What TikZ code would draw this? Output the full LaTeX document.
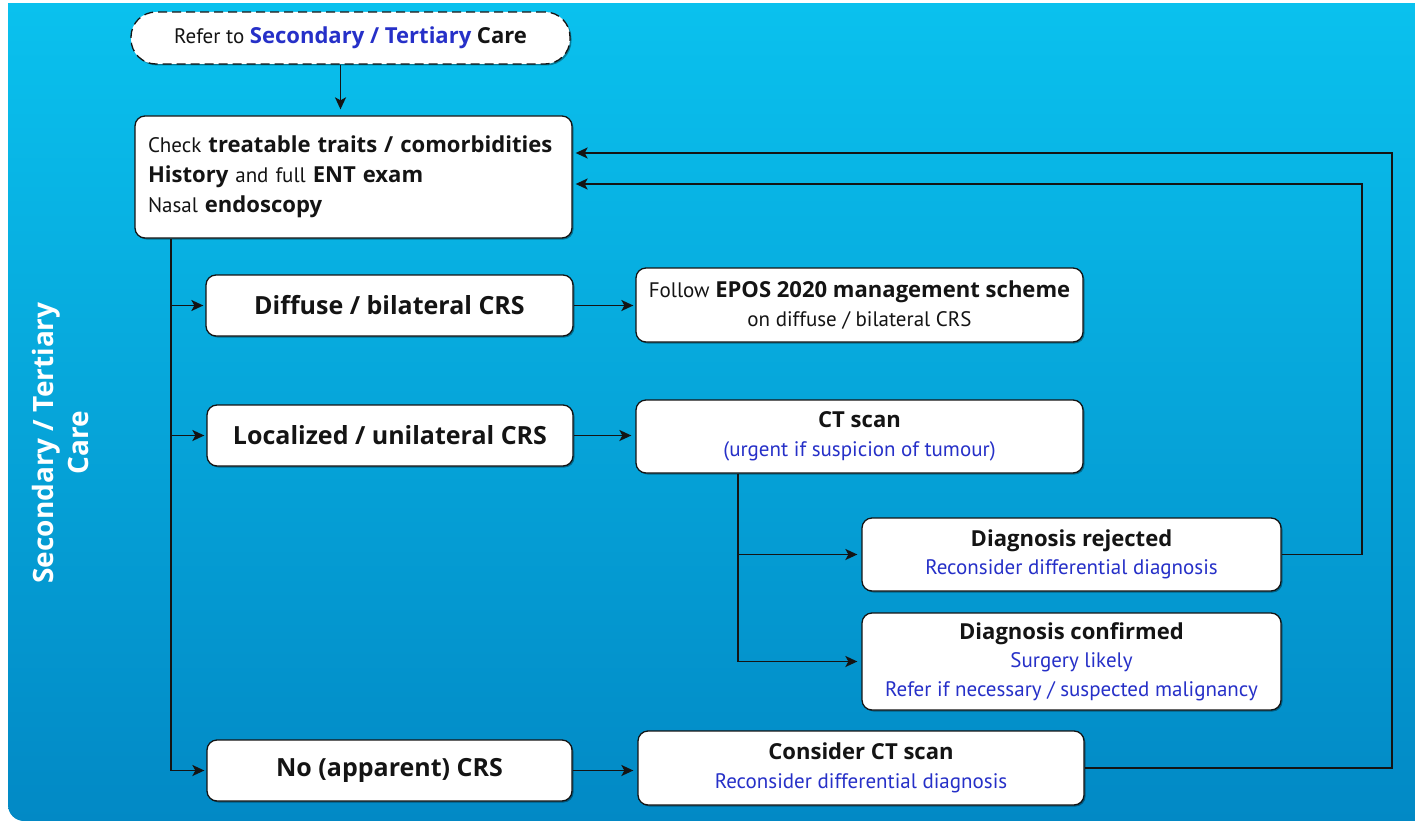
\documentclass[tikz,border=0pt]{standalone}
\usepackage{fontspec}
\setmainfont{PT Sans}
\newfontfamily\widefont{Open Sans}
\newfontfamily\boldwide{Open Sans}[Scale=1.05]
\newcommand\bfw[1]{{\boldwide\bfseries #1}}
\usetikzlibrary{arrows.meta,shadows}
\definecolor{careblue}{RGB}{38,48,200}
\definecolor{bgtop}{RGB}{10,193,238}
\definecolor{bgbot}{RGB}{2,137,197}
\definecolor{ink}{RGB}{20,20,20}
\begin{document}
\begin{tikzpicture}[x=1pt,y=-1pt,
  box/.style={draw=ink, line width=1.3pt, fill=white, rounded corners=10pt,
    inner sep=0pt, align=center, text=ink,
    font=\fontsize{21}{28.5}\selectfont,
    drop shadow={shadow xshift=1.5pt,shadow yshift=-1.5pt,opacity=0.35,fill=black}},
  bigbox/.style={box, font=\widefont\bfseries\fontsize{25}{28}\selectfont},
  flow/.style={line width=1.8pt, draw=ink, -{Stealth[length=12pt,width=11pt,inset=3pt]}},
  wire/.style={line width=1.8pt, draw=ink},
]
\useasboundingbox (0,0) rectangle (1415,821);

% panel background
\begin{scope}
  \clip[rounded corners=16pt] (8,-40) rectangle (1460,821);
  \clip (8,4) rectangle (1415,821);
  \shade[top color=bgtop,bottom color=bgbot] (0,4) rectangle (1415,821);
\end{scope}

% side label
\node[rotate=90, align=center, text=white, font=\widefont\bfseries\fontsize{28}{35}\selectfont]
  (side) at (60,443) {Secondary / Tertiary\\Care};

% boxes
\node[box, rounded corners=25pt, dash pattern=on 9pt off 5pt, minimum width=439pt, minimum height=52pt]
  (refer) at (350.5,38) {Refer to \textcolor{careblue}{\bfw{Secondary / Tertiary}} \bfw{Care}};

\node[box, minimum width=437pt, minimum height=122pt, text width=411pt, align=left,
      font=\fontsize{21}{30}\selectfont]
  (check) at (353.5,177) {Check \bfw{treatable traits / comorbidities}\\
    \bfw{History} and full \bfw{ENT exam}\\
    Nasal \bfw{endoscopy}};

\node[bigbox, minimum width=367pt, minimum height=61pt] (diffuse) at (389.5,305.5) {Diffuse / bilateral CRS};
\node[bigbox, minimum width=366pt, minimum height=61pt] (local) at (390,435.5) {Localized / unilateral CRS};
\node[bigbox, minimum width=365pt, minimum height=61pt] (nocrs) at (389.5,770.5) {No (apparent) CRS};

\node[box, minimum width=447pt, minimum height=74pt] (epos) at (859.5,305)
  {Follow \bfw{EPOS 2020 management scheme}\\ on diffuse / bilateral CRS};
\node[box, minimum width=447pt, minimum height=73pt] (ct) at (859.5,436.5)
  {\bfw{CT scan}\\ \textcolor{careblue}{(urgent if suspicion of tumour)}};
\node[box, minimum width=419pt, minimum height=73pt] (rej) at (1071.5,554.5)
  {\bfw{Diagnosis rejected}\\ \textcolor{careblue}{Reconsider differential diagnosis}};
\node[box, minimum width=419pt, minimum height=97pt] (conf) at (1071.5,661.5)
  {\bfw{Diagnosis confirmed}\\ \textcolor{careblue}{Surgery likely}\\
   \textcolor{careblue}{Refer if necessary / suspected malignancy}};
\node[box, minimum width=446pt, minimum height=74pt] (cons) at (861,768)
  {\bfw{Consider CT scan}\\ \textcolor{careblue}{Reconsider differential diagnosis}};

% connectors
\draw[flow, shorten >=6pt] ([xshift=-10pt]refer.south) -- ([xshift=-10pt]refer.south |- check.north);

\coordinate (trunk) at ([xshift=37pt]check.south west);
\draw[wire] (trunk) -- (trunk |- nocrs.west);
\draw[flow, shorten >=2pt] (trunk |- diffuse.west) -- (diffuse.west);
\draw[flow, shorten >=2pt] (trunk |- local.west) -- (local.west);
\draw[flow, shorten >=2pt] (trunk |- nocrs.west) -- (nocrs.west);

\draw[flow, shorten >=2pt] (diffuse.east) -- (diffuse.east -| epos.west);
\draw[flow, shorten >=4pt] (local.east) -- (local.east -| ct.west);
\draw[flow, shorten >=4pt] (nocrs.east) -- (nocrs.east -| cons.west);

\coordinate (branch) at ([xshift=103pt]ct.south west);
\draw[wire] (branch) -- (branch |- conf.west);
\draw[flow, shorten >=4pt] (branch |- rej.west) -- (rej.west);
\draw[flow, shorten >=4pt] (branch |- conf.west) -- (conf.west);

\coordinate (loopA) at (1362,184);
\coordinate (loopB) at (1392,153);
\draw[flow, shorten >=3pt] (rej.east) -| (loopA) -- (loopA -| check.east);
\draw[flow, shorten >=3pt] (cons.east) -| (loopB) -- (loopB -| check.east);
\end{tikzpicture}
\end{document}
